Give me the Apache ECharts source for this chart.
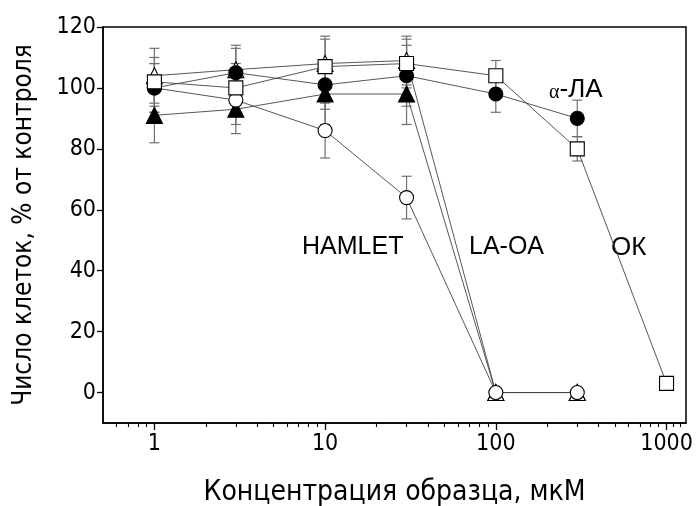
<!DOCTYPE html>
<html><head><meta charset="utf-8">
<script src="https://cdn.jsdelivr.net/npm/echarts@6/dist/echarts.min.js"></script>
<style>html,body{margin:0;padding:0;background:#fff}#c{width:696px;height:506px}</style>
</head><body><div id="c"></div>
<script>
// concentrations (µM)
const concAll = [1, 3, 10, 30, 100, 300, 1000];
// series values (% of control) and errors
const filledCircleY = [100, 105, 101, 104, 98, 90];
const filledCircleErr = [8, 9, 8, 10, 6, 6];
const openSquareY = [102, 100, 107, 108, 104, 80, 3];
const openSquareErr = [8, 8, 10, 8, 5, 4, 1];
const openTriY = [104, 106, 108, 109, 0, 0];
const openTriErr = [9, 7, 8, 8, 0, 0];
const filledTriY = [91, 93, 98, 98, 0, 0];
const filledTriErr = [9, 8, 10, 10, 0, 0];
const openCircleY = [100, 96, 86, 64, 0, 0];
const openCircleErr = [8, 8, 9, 7, 0, 0];
// axis ticks
const xMajorTicks = [1, 10, 100, 1000];
const xMinorTicks = [0.6, 0.7, 0.8, 0.9, 2, 3, 4, 5, 6, 7, 8, 9, 20, 30, 40, 50, 60, 70, 80, 90, 200, 300, 400, 500, 600, 700, 800, 900, 1100, 1200];
const yTicks = [0, 20, 40, 60, 80, 100, 120];
const xTitle = 'Концентрация образца, мкМ';
const yTitle = 'Число клеток, % от контроля';

const FONT = '"Liberation Sans Narrow","DejaVu Sans Condensed","Liberation Sans",Arial,sans-serif';
const pts = (ys) => ys.map((v, i) => [concAll[i], v]);
const errData = (ys, es) => ys.map((v, i) => [concAll[i], v - es[i], v + es[i]]).filter(d => d[2] > d[1]);

function errSeries(ys, es, z) {
  return {
    type: 'custom', z: z, silent: true,
    data: errData(ys, es),
    renderItem: function (params, api) {
      const x = api.value(0);
      const lo = api.coord([x, api.value(1)]);
      const hi = api.coord([x, api.value(2)]);
      const w = 5;
      const st = { stroke: '#707070', lineWidth: 1.2 };
      return { type: 'group', children: [
        { type: 'line', shape: { x1: lo[0], y1: lo[1], x2: hi[0], y2: hi[1] }, style: st },
        { type: 'line', shape: { x1: lo[0] - w, y1: lo[1], x2: lo[0] + w, y2: lo[1] }, style: st },
        { type: 'line', shape: { x1: hi[0] - w, y1: hi[1], x2: hi[0] + w, y2: hi[1] }, style: st }
      ]};
    }
  };
}
function lineSeries(name, ys, symbol, size, fill, z) {
  return {
    name: name, type: 'line', z: z, data: pts(ys), symbol: symbol, symbolSize: size,
    showAllSymbol: true,
    lineStyle: { color: '#444', width: 0.9 },
    itemStyle: { color: fill, borderColor: '#000', borderWidth: 1.1 },
    emphasis: { disabled: true }, animation: false
  };
}
const chart = echarts.init(document.getElementById('c'), null, { renderer: 'canvas' });
const xCommon = { type: 'log', logBase: 10, min: 0.5, max: 1300, gridIndex: 0, position: 'bottom' };
chart.setOption({
  animation: false,
  grid: { left: 103, top: 27, right: 10, bottom: 83, outerBoundsMode: 'none', containLabel: false, show: true, borderColor: '#000', borderWidth: 1.5, backgroundColor: 'transparent' },
  xAxis: [
    Object.assign({}, xCommon, {
      name: xTitle, nameLocation: 'middle', nameGap: 56,
      nameTextStyle: { fontFamily: FONT, fontSize: 28, color: '#000' },
      axisLine: { show: true, onZero: false, lineStyle: { color: '#000', width: 1.5 } },
      axisTick: { show: true, inside: false, length: 7, customValues: xMajorTicks, lineStyle: { color: '#000', width: 1.3 } },
      axisLabel: { customValues: xMajorTicks, formatter: (v) => String(v), fontFamily: FONT, fontSize: 23, color: '#000', margin: 10 },
      splitLine: { show: false }, minorTick: { show: false }
    }),
    Object.assign({}, xCommon, {
      axisLine: { show: false, onZero: false },
      axisTick: { show: true, inside: false, length: 4, customValues: xMinorTicks, lineStyle: { color: '#000', width: 1.1 } },
      axisLabel: { show: false }, splitLine: { show: false }
    })
  ],
  yAxis: {
    type: 'value', min: -10, max: 120,
    name: yTitle, nameLocation: 'middle', nameGap: 66, nameRotate: 90,
    nameTextStyle: { fontFamily: FONT, fontSize: 26, color: '#000' },
    axisLine: { show: true, onZero: false, lineStyle: { color: '#000', width: 1.5 } },
    axisTick: { show: true, inside: false, length: 6, customValues: yTicks, lineStyle: { color: '#000', width: 1.3 } },
    axisLabel: { customValues: yTicks, fontFamily: FONT, fontSize: 23, color: '#000', margin: 7 },
    splitLine: { show: false }
  },
  series: [
    errSeries(filledTriY, filledTriErr, 1),
    errSeries(openTriY, openTriErr, 1),
    errSeries(openCircleY, openCircleErr, 1),
    errSeries(filledCircleY, filledCircleErr, 1),
    errSeries(openSquareY, openSquareErr, 1),
    lineSeries('filledTri', filledTriY, 'triangle', 16, '#000', 2),
    lineSeries('openTri', openTriY, 'triangle', 16, '#fff', 3),
    lineSeries('openCircle', openCircleY, 'circle', 14, '#fff', 4),
    lineSeries('filledCircle', filledCircleY, 'circle', 14, '#000', 5),
    lineSeries('openSquare', openSquareY, 'rect', 14, '#fff', 6)
  ],
  graphic: [
    { type: 'text', left: 302, top: 235, style: { text: 'HAMLET', font: '25px "Liberation Sans", Arial, sans-serif', fill: '#000' } },
    { type: 'text', left: 469, top: 235, style: { text: 'LA-OA', font: '25px "Liberation Sans", Arial, sans-serif', fill: '#000' } },
    { type: 'text', left: 611, top: 235, style: { text: 'ОК', font: '26px "Liberation Sans", Arial, sans-serif', fill: '#000' } },
    { type: 'text', left: 549, top: 77, style: {
        text: '{a|α}{b|-ЛА}',
        rich: { a: { font: '20px "Liberation Serif", serif', fill: '#000', verticalAlign: 'bottom' },
                b: { font: '26px "Liberation Sans", Arial, sans-serif', fill: '#000' } } } }
  ]
});
</script></body></html>
